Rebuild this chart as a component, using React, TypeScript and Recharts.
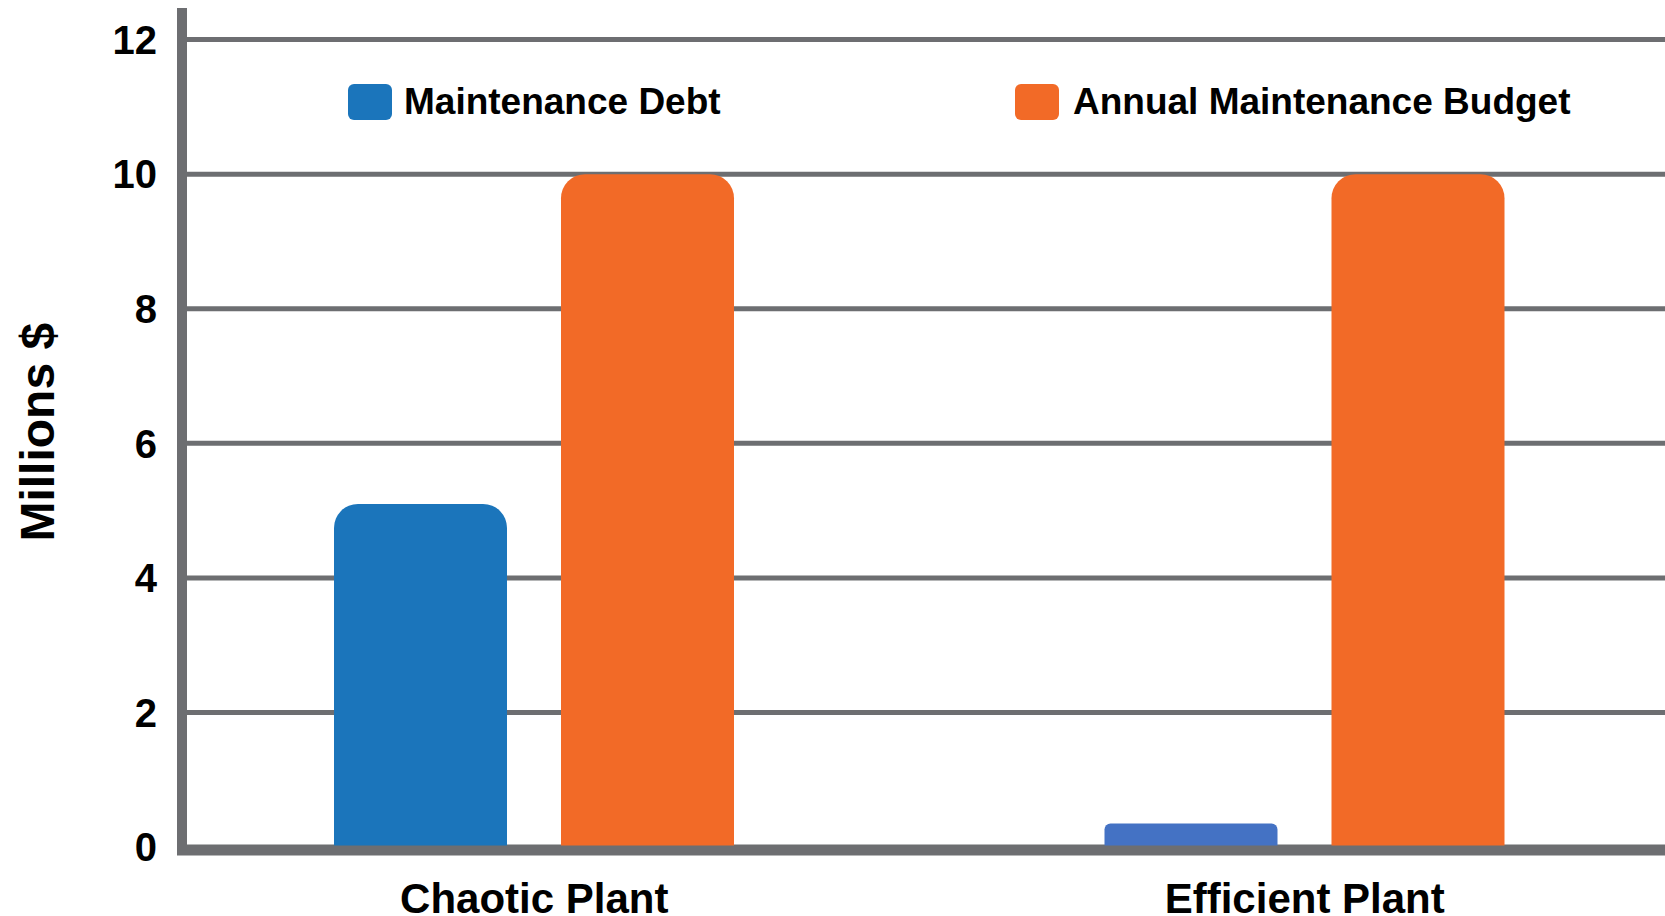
import React from 'react';
import { BarChart, Bar, XAxis, YAxis, CartesianGrid, Legend, Cell } from 'recharts';

const categories = ['Chaotic Plant', 'Efficient Plant'];
const maintenanceDebt = [5.1, 0.35];
const annualBudget = [10, 10];
const yTicks = [0, 2, 4, 6, 8, 10, 12];

const debtColors = ['#1B75BB', '#4472C4'];
const budgetColor = '#F26A27';
const gridColor = '#6D6E71';
const font = '"Liberation Sans", Arial, sans-serif';

const data = categories.map((plant, i) => ({
  plant,
  debt: maintenanceDebt[i],
  budget: annualBudget[i],
}));

const YLabel = (props: any) => {
  const { viewBox } = props;
  const cy = viewBox.y + viewBox.height / 2 + 3;
  return (
    <text
      x={37}
      y={cy}
      transform={`rotate(-90, 37, ${cy})`}
      textAnchor="middle"
      dy="0.355em"
      fontFamily={font}
      fontWeight={700}
      fontSize={48}
      fill="#000"
    >
      Millions $
    </text>
  );
};

// legend is drawn by hand so the two entries sit where the original has them
const legendLeft: Record<string, number> = { debt: 348, budget: 1015 };

const LegendContent = (props: any) => {
  const items = props.payload || [];
  return (
    <div style={{ position: 'relative', width: 1665, height: 0 }}>
      {items.map((item: any) => (
        <div
          key={item.value}
          style={{
            position: 'absolute',
            left: legendLeft[item.dataKey],
            top: 84,
            height: 36,
            display: 'flex',
            alignItems: 'center',
            whiteSpace: 'nowrap',
          }}
        >
          <div style={{ width: 44, height: 36, borderRadius: 6, background: item.color }} />
          <span
            style={{
              marginLeft: item.dataKey === 'debt' ? 12 : 14,
              fontFamily: font,
              fontWeight: 700,
              fontSize: 37,
              lineHeight: '36px',
              color: '#000',
            }}
          >
            {item.value}
          </span>
        </div>
      ))}
    </div>
  );
};

export default function App() {
  return (
    <div
      style={{
        position: 'absolute',
        left: 0,
        top: 0,
        width: 1665,
        height: 916,
        overflow: 'hidden',
        background: '#fff',
      }}
    >
      <BarChart
        width={1665}
        height={916}
        data={data}
        margin={{ top: 8, right: 0, bottom: 0, left: 0 }}
        barSize={173}
        barGap={54}
      >
        <CartesianGrid vertical={false} stroke={gridColor} strokeWidth={5} syncWithTicks />
        <XAxis
          dataKey="plant"
          height={65.6}
          padding={{ left: -33, right: -25 }}
          axisLine={{ stroke: gridColor, strokeWidth: 10, strokeLinecap: 'square' }}
          tickLine={false}
          tickSize={0}
          tickMargin={33}
          interval={0}
          tick={{ fill: '#000', fontSize: 42, fontWeight: 700, fontFamily: font }}
        />
        <YAxis
          width={182}
          domain={[-0.05, 12.47]}
          ticks={yTicks}
          allowDataOverflow
          axisLine={{ stroke: gridColor, strokeWidth: 10 }}
          tickLine={false}
          tickSize={0}
          tickMargin={25}
          tick={{ fill: '#000', fontSize: 40, fontWeight: 700, fontFamily: font }}
          label={<YLabel />}
        />
        <Legend
          verticalAlign="middle"
          align="center"
          wrapperStyle={{ top: 0, left: 0, width: 1665, height: 0 }}
          content={<LegendContent />}
        />
        <Bar
          dataKey="debt"
          name="Maintenance Debt"
          fill={debtColors[0]}
          radius={[24, 24, 0, 0]}
          isAnimationActive={false}
        >
          {data.map((d, i) => (
            <Cell key={d.plant} fill={debtColors[i]} radius={i === 1 ? [6, 6, 0, 0] : [24, 24, 0, 0]} />
          ))}
        </Bar>
        <Bar
          dataKey="budget"
          name="Annual Maintenance Budget"
          fill={budgetColor}
          radius={[24, 24, 0, 0]}
          isAnimationActive={false}
        />
      </BarChart>
    </div>
  );
}
